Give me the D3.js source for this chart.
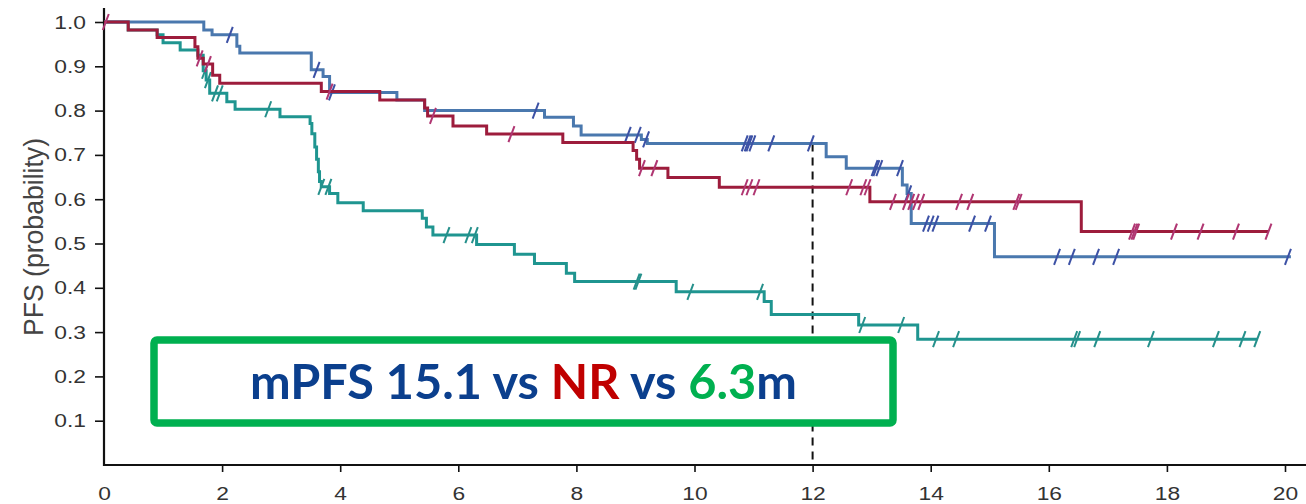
<!DOCTYPE html>
<html>
<head>
<meta charset="utf-8">
<script src="https://cdn.jsdelivr.net/npm/d3@7"></script>
<style>
  html, body { margin: 0; padding: 0; background: #fff; }
  svg { display: block; }
</style>
</head>
<body>
<svg id="chart" width="1306" height="504"></svg>
<script>
// ---------- data ----------
const xTicks = [0, 2, 4, 6, 8, 10, 12, 14, 16, 18, 20];
const yTicks = [0.1, 0.2, 0.3, 0.4, 0.5, 0.6, 0.7, 0.8, 0.9, 1.0];
const yAxisTitle = "PFS (probability)";
const landmarkMonth = 12;

const blueTime = [0, 1.69, 1.83, 2.25, 2.30, 3.51, 3.71, 3.82, 4.96, 5.43, 7.46, 7.95, 8.08, 9.10, 9.20, 12.23, 12.57, 13.52, 13.60, 13.67, 15.08, 20.1];
const blueSurv = [1.0, 0.982, 0.971, 0.945, 0.930, 0.892, 0.877, 0.841, 0.824, 0.800, 0.785, 0.765, 0.745, 0.735, 0.726, 0.696, 0.670, 0.632, 0.613, 0.545, 0.470, 0.470];
const blueCensor = [2.13, 3.60, 3.86, 7.31, 8.87, 9.04, 9.18, 10.85, 10.90, 10.93, 10.98, 11.30, 11.97, 13.05, 13.08, 13.13, 13.48, 13.62, 13.92, 14.00, 14.08, 14.70, 14.97, 16.14, 16.39, 16.80, 17.14, 20.05];

const redTime = [0, 0.41, 0.90, 1.54, 1.59, 1.68, 1.84, 1.96, 3.68, 4.67, 5.43, 5.48, 5.91, 6.48, 7.77, 8.96, 9.02, 9.07, 9.55, 10.42, 12.97, 16.55, 19.72];
const redSurv = [1.0, 0.982, 0.965, 0.944, 0.918, 0.905, 0.880, 0.862, 0.843, 0.824, 0.806, 0.788, 0.765, 0.747, 0.728, 0.710, 0.690, 0.670, 0.649, 0.627, 0.594, 0.527, 0.527];
const redCensor = [0.03, 1.62, 1.76, 3.82, 5.57, 6.90, 9.11, 9.32, 10.85, 10.93, 11.05, 12.62, 12.86, 12.93, 13.36, 13.58, 13.67, 13.75, 13.84, 14.48, 14.67, 15.45, 15.49, 17.41, 17.45, 17.48, 18.12, 18.57, 19.17, 19.72];

const tealTime = [0, 0.41, 0.90, 1.00, 1.29, 1.59, 1.68, 1.73, 1.79, 2.08, 2.22, 2.98, 3.49, 3.52, 3.57, 3.60, 3.63, 3.65, 3.68, 3.82, 3.96, 4.39, 5.39, 5.46, 5.57, 6.31, 6.95, 7.29, 7.83, 7.97, 9.69, 11.18, 11.30, 12.78, 13.78, 19.53];
const tealSurv = [1.0, 0.982, 0.971, 0.953, 0.937, 0.925, 0.890, 0.869, 0.839, 0.820, 0.803, 0.786, 0.771, 0.748, 0.718, 0.690, 0.662, 0.640, 0.628, 0.613, 0.592, 0.574, 0.557, 0.537, 0.519, 0.498, 0.476, 0.455, 0.433, 0.414, 0.391, 0.369, 0.340, 0.316, 0.284, 0.284];
const tealCensor = [1.71, 1.76, 1.88, 1.96, 2.78, 3.68, 3.80, 5.80, 6.17, 6.28, 9.02, 9.05, 9.93, 11.11, 12.84, 13.50, 14.09, 14.43, 16.43, 16.48, 16.82, 17.73, 18.83, 19.28, 19.53];

const boxParts = [
  { text: "mPFS 15.1 vs ", color: "#0b3f8d" },
  { text: "NR", color: "#c00000" },
  { text: " vs ", color: "#0b3f8d" },
  { text: "6.3", color: "#00b050" },
  { text: "m", color: "#0b3f8d" }
];

// ---------- layout ----------
const svg = d3.select("#chart");
svg.append("rect").attr("width", 1306).attr("height", 504).attr("fill", "#fff");

const x = d3.scaleLinear().domain([0, 20]).range([104, 1285]);
const y = d3.scaleLinear().domain([0, 1]).range([465, 22]);
const SX = 1.2; // horizontal stretch of the reference's axis text
const axisFont = "'Liberation Sans', Arial, sans-serif";

// axes
const xAxis = svg.append("g")
  .attr("transform", `translate(0,${y(0)})`)
  .call(d3.axisBottom(x).tickValues(xTicks).tickSize(7).tickPadding(15).tickSizeOuter(0).tickFormat(d3.format("d")));
xAxis.select(".domain").remove();
xAxis.selectAll(".tick line").attr("stroke", "#111").attr("stroke-width", 1.6)
  .filter(d => d === 0).remove();
xAxis.selectAll(".tick text")
  .attr("font-family", axisFont)
  .attr("font-size", 19).attr("fill", "#333")
  .attr("transform", `scale(${SX},1)`);
xAxis.append("line").attr("x1", x(0) - 1).attr("x2", 1306).attr("y1", 0).attr("y2", 0)
  .attr("stroke", "#111").attr("stroke-width", 2.2);

const yAxis = svg.append("g")
  .attr("transform", `translate(${x(0)},0)`)
  .call(d3.axisLeft(y).tickValues(yTicks).tickSize(9).tickPadding(10).tickSizeOuter(0).tickFormat(d3.format(".1f")));
yAxis.select(".domain").remove();
yAxis.selectAll(".tick line").attr("stroke", "#111").attr("stroke-width", 1.6);
yAxis.selectAll(".tick text")
  .attr("font-family", axisFont)
  .attr("font-size", 19).attr("fill", "#333")
  .attr("x", -18 / SX)
  .attr("transform", `scale(${SX},1)`);
yAxis.append("line").attr("x1", 0).attr("x2", 0).attr("y1", 8).attr("y2", y(0) + 1)
  .attr("stroke", "#111").attr("stroke-width", 2.2);

// y title
svg.append("text")
  .attr("transform", `translate(43,${(138 + 336) / 2}) rotate(-90)`)
  .attr("text-anchor", "middle")
  .attr("font-family", axisFont)
  .attr("font-size", 27).attr("fill", "#444")
  .attr("textLength", 198).attr("lengthAdjust", "spacingAndGlyphs")
  .text(yAxisTitle);

// ---------- curves ----------
function survAt(times, surv, t) {
  let i = d3.bisectRight(times, t) - 1;
  if (i < 0) i = 0;
  return surv[i];
}
const stepLine = d3.line().x(d => x(d[0])).y(d => y(d[1])).curve(d3.curveStepAfter);

const series = [
  { time: tealTime, surv: tealSurv, censor: tealCensor, color: "#1f9590", mark: "#25908b" },
  { time: blueTime, surv: blueSurv, censor: blueCensor, color: "#4a78ae", mark: "#3c51a5" },
  { time: redTime, surv: redSurv, censor: redCensor, color: "#9d1c3c", mark: "#b03672" }
];

// dashed landmark line
const landmarkSurv = survAt(blueTime, blueSurv, landmarkMonth);
svg.append("line")
  .attr("x1", x(landmarkMonth)).attr("x2", x(landmarkMonth))
  .attr("y1", y(landmarkSurv)).attr("y2", y(0))
  .attr("stroke", "#111").attr("stroke-width", 2).attr("stroke-dasharray", "8,6");

series.forEach(s => {
  const pts = s.time.map((t, i) => [t, s.surv[i]]);
  svg.append("path").datum(pts)
    .attr("d", stepLine)
    .attr("fill", "none").attr("stroke", s.color).attr("stroke-width", 3)
    .attr("stroke-linejoin", "miter");
  svg.append("g").selectAll("line").data(s.censor).join("line")
    .attr("x1", d => x(d) - 3).attr("x2", d => x(d) + 3)
    .attr("y1", d => y(survAt(s.time, s.surv, d)) + 8)
    .attr("y2", d => y(survAt(s.time, s.surv, d)) - 8)
    .attr("stroke", s.mark).attr("stroke-width", 2);
});

// ---------- annotation box ----------
svg.append("rect")
  .attr("x", 154).attr("y", 340).attr("width", 739).attr("height", 83)
  .attr("rx", 3).attr("fill", "#fff")
  .attr("stroke", "#00b050").attr("stroke-width", 7.5);

// lay the coloured parts out one after another, sized so the whole string spans 547px
const labelFont = "Lato, 'Open Sans', sans-serif";
const targetWidth = 547, centerX = 523.5, baseY = 399;
const probe = svg.append("text").attr("font-family", labelFont).attr("font-weight", 700).attr("font-size", 50)
  .text(boxParts.map(p => p.text).join(""));
const fullW = probe.node().getComputedTextLength();
probe.remove();
const fs = 50 * targetWidth / fullW;
let cursor = centerX - targetWidth / 2;
boxParts.forEach((p, i) => {
  const t = svg.append("text")
    .attr("x", cursor).attr("y", baseY)
    .attr("font-family", labelFont).attr("font-weight", 700).attr("font-size", fs)
    .attr("fill", p.color)
    .attr("xml:space", "preserve")
    .style("white-space", "pre")
    .text(p.text);
  const w = t.node().getComputedTextLength();
  cursor += w;
});
</script>
</body>
</html>
